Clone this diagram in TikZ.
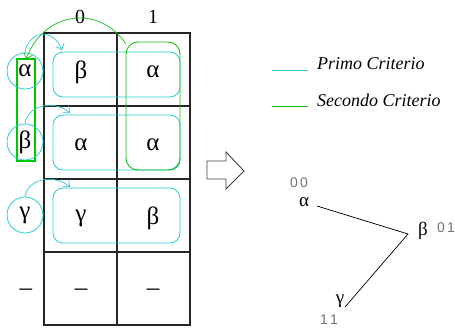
\documentclass[tikz,border=0pt]{standalone}
\usepackage{fontspec}
\setmainfont{Liberation Serif}
\newfontfamily\labfont{Liberation Sans}
\usetikzlibrary{arrows.meta,calc}
\definecolor{cyn}{RGB}{40,205,210}
\definecolor{grn}{RGB}{20,190,20}
\definecolor{grb}{RGB}{0,200,0}
\tikzset{
  x=1pt,y=1pt,
  grk/.style={font=\fontsize{25}{27}\selectfont, inner sep=1pt},
  grs/.style={font=\fontsize{19}{21}\selectfont, inner sep=0pt},
  hdr/.style={font=\fontsize{20}{22}\selectfont, inner sep=0pt},
  gridline/.style={draw=black!85, line width=1.1pt},
  rowcirc/.style={circle, draw=cyn, line width=0.8pt, minimum size=36pt, inner sep=0pt, font=\fontsize{25}{27}\selectfont},
  cybox/.style={draw=cyn, line width=0.8pt, rounded corners=10pt, minimum width=127pt, inner sep=0pt},
  cyarr/.style={draw=cyn, line width=0.7pt, -{Straight Barb[length=5pt,width=9pt]}},
  grarr/.style={draw=grn, line width=0.7pt, -{Straight Barb[length=5pt,width=9pt]}},
  leg/.style={font=\fontsize{18}{20}\selectfont\itshape, anchor=base west, inner sep=0pt},
  code/.style={font=\labfont\fontsize{14}{15}\selectfont, text=black!55, inner sep=0pt},
}
\begin{document}
\begin{tikzpicture}
\useasboundingbox (0,0) rectangle (455,-329);
% grid
\draw[gridline] (44,-33) rectangle (190,-325);
\draw[gridline] (117,-33) -- (117,-325);
\foreach \yy in {106,179,252} \draw[gridline] (44,-\yy) -- (190,-\yy);
% headers
\node[hdr] (h0) at (80,-17) {0};
\node[hdr] (h1) at (153,-17) {1};
% cyan row boxes
\node[cybox, minimum height=45pt] (b1) at (116.5,-74.5) {};
\node[cybox, minimum height=55pt] (b2) at (116.5,-142.5) {};
\node[cybox, minimum height=55pt] (b3) at (116.5,-215.5) {};
% green boxes
\node[draw=grn, line width=0.9pt, inner sep=0pt, rounded corners=12pt, minimum width=54pt, minimum height=128pt] (g2) at (153,-106) {};
\draw[grb, line width=1.2pt] (17,-59) rectangle (35,-161);
\coordinate (g1top) at (26,-59);
% row labels
\node[rowcirc] (ra) at (25,-71) {α};
\node[rowcirc] (rb) at (25,-142) {β};
\node[rowcirc] (rc) at (25,-215) {γ};
\node[grk] (rd) at (26,-292) {–};
% cells
\node[grk] (c11) at (81,-72) {β};
\node[grk] (c12) at (153,-72) {α};
\node[grk] (c21) at (81,-145) {α};
\node[grk] (c22) at (153,-145) {α};
\node[grk] (c31) at (81,-218) {γ};
\node[grk] (c32) at (153,-218) {β};
\node[grk] (c41) at (81,-292) {–};
\node[grk] (c42) at (153,-292) {–};
% arrows
\coordinate (t1) at (62,-50);
\coordinate (t2) at (70,-113);
\coordinate (t3) at (70,-187);
\draw[cyarr] (ra.north) .. controls (28,-32) and (52,-26) .. (t1);
\draw[cyarr] (rb.north) .. controls (28,-104) and (55,-100) .. (t2);
\draw[cyarr] (rc.north) .. controls (28,-178) and (55,-174) .. (t3);
\coordinate (gs) at (126,-44);
\draw[grarr] (gs) .. controls (100,-5) and (45,-10) .. (g1top);
% legend
\coordinate (l1a) at (272,-70); \coordinate (l1b) at (308,-70);
\coordinate (l2a) at (272,-106); \coordinate (l2b) at (308,-106);
\draw[cyn, line width=0.9pt] (l1a) -- (l1b);
\draw[grn, line width=0.9pt] (l2a) -- (l2b);
\node[leg] (lt1) at (317,-70) {Primo Criterio};
\node[leg] (lt2) at (317,-106) {Secondo Criterio};
% block arrow
\draw[black!75, line width=0.9pt, line join=miter] (207,-161) -- (226,-161) -- (226,-152) -- (244,-171) -- (226,-189) -- (226,-179) -- (207,-179) -- cycle;
% graph
\node[grs] (na) at (304,-202) {α};
\node[grs] (nb) at (423,-231) {β};
\node[grs] (ng) at (340,-301) {γ};
\node[code] (ca) at (299,-183) {0\,0};
\node[code] (cb) at (446,-228) {0\,1};
\node[code] (cc) at (329,-320) {1\,1};
\coordinate (j) at (408,-234);
\draw[black, line width=0.7pt] (317,-206) -- (j) -- (345,-307);
\end{tikzpicture}
\end{document}
